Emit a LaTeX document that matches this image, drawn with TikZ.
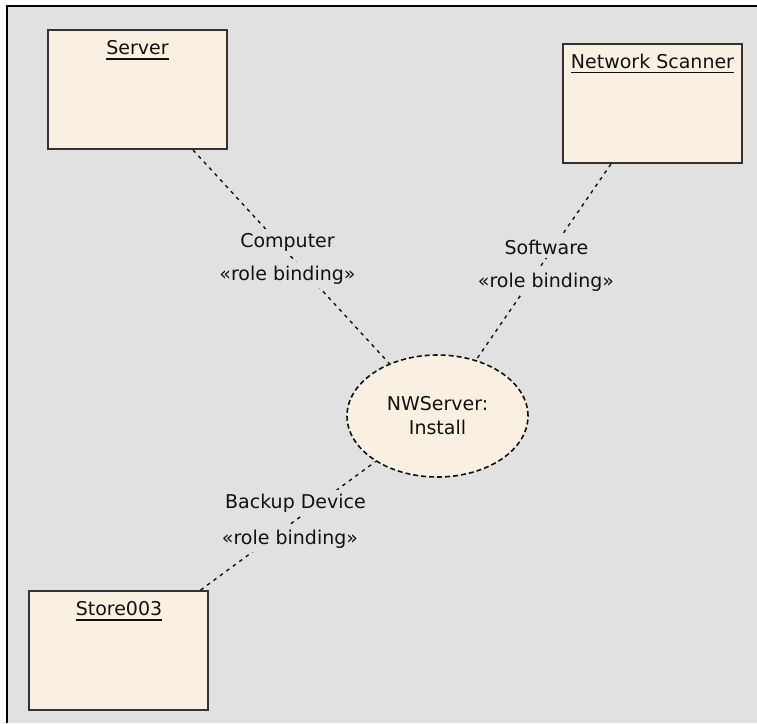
\documentclass[tikz,border=0pt]{standalone}
\usepackage{fontspec}
\setmainfont{DejaVu Sans}
\usetikzlibrary{shapes.geometric}
\definecolor{bggray}{HTML}{E1E1E1}
\definecolor{cream}{HTML}{FAF0E1}
\definecolor{edge}{HTML}{333333}
\definecolor{ink}{HTML}{111111}
\tikzset{
  umlbox/.style={draw=edge, line width=2pt, fill=cream, rectangle, minimum width=179pt, minimum height=119pt, inner sep=0pt},
  title/.style={anchor=base, inner sep=0pt, text=ink, font=\fontsize{19}{24}\selectfont},
  uline/.style={draw=ink, line width=1.6pt},
  lbl/.style={anchor=base, fill=bggray, inner xsep=1pt, inner ysep=4pt, text=ink, font=\fontsize{19}{24}\selectfont},
  collab/.style={draw=ink, line width=1.6pt, dash pattern=on 5pt off 3pt, fill=cream, ellipse, minimum width=181pt, minimum height=122pt, inner sep=0pt, align=center, text=ink, font=\fontsize{19}{24}\selectfont},
  binding/.style={draw=ink, line width=1.4pt, dash pattern=on 3.5pt off 4.5pt}
}
\begin{document}
\begin{tikzpicture}[x=1pt, y=-1pt]
\useasboundingbox (0,0) rectangle (757,723);
\fill[white] (0,0) rectangle (757,723);
\fill[bggray] (7,6) rectangle (757,723);
\draw[line width=2pt, black] (7,723) -- (7,6) -- (757,6);

% boxes
\node[umlbox] (server) at (137.5,89.5) {};
\node[umlbox] (scanner) at (652.5,103.5) {};
\node[umlbox] (store) at (118.5,650.5) {};
\node[collab] (nw) at (437.5,416) {NWServer:\\Install};

% titles
\node[title] (tserver) at (137.5,54) {Server};
\draw[uline] ([yshift=-5pt]tserver.base west) -- ([yshift=-5pt]tserver.base east);
\node[title] (tscanner) at (652.5,68) {Network Scanner};
\draw[uline] ([yshift=-4.5pt]tscanner.base west) -- ([yshift=-4.5pt]tscanner.base east);
\node[title] (tstore) at (119,615) {Store003};
\draw[uline] ([yshift=-5pt]tstore.base west) -- ([yshift=-5pt]tstore.base east);

% connectors
\draw[binding] (server) -- (nw);
\draw[binding] (scanner) -- (nw);
\draw[binding] (store) -- (nw);

% labels
\node[lbl] (l1a) at (287.5,247) {Computer};
\node[lbl] (l1b) at (287.5,280) {«role binding»};
\node[lbl] (l2a) at (546.5,254) {Software};
\node[lbl] (l2b) at (546,287) {«role binding»};
\node[lbl] (l3a) at (295.5,508) {Backup Device};
\node[lbl] (l3b) at (290,544) {«role binding»};
\end{tikzpicture}
\end{document}
